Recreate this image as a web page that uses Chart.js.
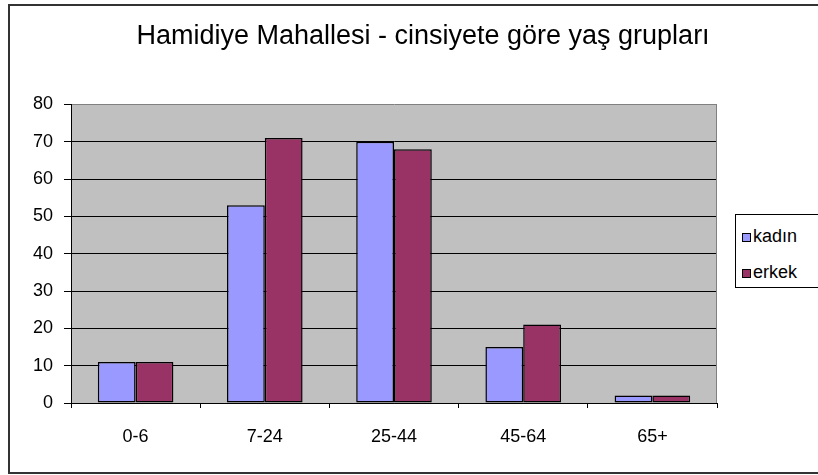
<!DOCTYPE html>
<html>
<head>
<meta charset="utf-8">
<script src="https://cdn.jsdelivr.net/npm/chart.js@4/dist/chart.umd.min.js"></script>
<style>
  html, body { margin: 0; padding: 0; background: #fff; }
  #wrap { position: relative; width: 818px; height: 475px; overflow: hidden; }
  #c { position: absolute; left: 0; top: 0; }
  #legend { position: absolute; left: 735px; top: 214px; width: 100px; height: 74px;
            border: 1px solid #000; background: #fff; box-sizing: border-box;
            font-family: "Liberation Sans", Arial, sans-serif; font-size: 18px; color: #000; }
  .item { position: absolute; left: 6px; height: 22px; line-height: 22px; white-space: nowrap; }
  .mk { display: inline-block; width: 7px; height: 7px; border: 1px solid #000; margin-right: 2px; vertical-align: 0px; }
</style>
</head>
<body>
<div id="wrap">
  <canvas id="c" width="818" height="475"></canvas>
  <div id="legend"></div>
</div>
<script>
const categories = ['0-6', '7-24', '25-44', '45-64', '65+'];
const seriesNames = ['kadın', 'erkek'];
const kadinValues = [11, 53, 70, 15, 2];
const erkekValues = [11, 71, 68, 21, 2];
const yMin = 0, yMax = 80, yStep = 10;
const titleText = 'Hamidiye Mahallesi - cinsiyete göre yaş grupları';
const seriesColors = ['#9999FF', '#993366'];

const FONT = '"Liberation Sans", Arial, sans-serif';

const chartDecor = {
  id: 'chartDecor',
  beforeDraw(chart) {
    const {ctx, chartArea: a} = chart;
    ctx.save();
    ctx.fillStyle = '#fff';
    ctx.fillRect(0, 0, chart.width, chart.height);
    ctx.strokeStyle = '#333';
    ctx.lineWidth = 2;
    ctx.strokeRect(9, 5, 900, 468);
    ctx.fillStyle = '#C0C0C0';
    ctx.fillRect(a.left, a.top, a.right - a.left, a.bottom - a.top);
    ctx.restore();
  },
  afterDraw(chart) {
    const {ctx, chartArea: a} = chart;
    ctx.save();
    ctx.strokeStyle = '#808080';
    ctx.lineWidth = 1;
    ctx.beginPath();
    ctx.moveTo(Math.round(a.right) - 0.5, a.top);
    ctx.lineTo(Math.round(a.right) - 0.5, a.bottom);
    ctx.stroke();
    ctx.restore();
  }
};

new Chart(document.getElementById('c'), {
  type: 'bar',
  data: {
    labels: categories,
    datasets: [
      { label: seriesNames[0], data: kadinValues, backgroundColor: seriesColors[0],
        borderColor: '#000', borderWidth: 1.5, borderSkipped: false,
        categoryPercentage: 0.585, barPercentage: 1.0 },
      { label: seriesNames[1], data: erkekValues, backgroundColor: seriesColors[1],
        borderColor: '#000', borderWidth: 1.5, borderSkipped: false,
        categoryPercentage: 0.585, barPercentage: 1.0 }
    ]
  },
  options: {
    responsive: false,
    animation: false,
    devicePixelRatio: 1,
    layout: { padding: { left: 28, right: 0, top: 0, bottom: 27 } },
    plugins: {
      legend: { display: false },
      tooltip: { enabled: false },
      title: {
        display: true, text: titleText, color: '#000',
        font: { family: FONT, size: 27, weight: 'normal' },
        padding: { top: 20, bottom: 52 }
      }
    },
    scales: {
      x: {
        offset: true,
        grid: { display: true, drawOnChartArea: false, drawTicks: true, tickLength: 5, color: '#000', offset: true },
        border: { display: true, color: '#000', width: 1 },
        ticks: { color: '#000', padding: 18, font: { family: FONT, size: 18 } },
        afterFit(s) { s.height = 45; }
      },
      y: {
        min: yMin, max: yMax,
        grid: {
          color: (c) => (c.tick && c.tick.value === yMax ? '#808080' : '#000'),
          tickColor: '#000', tickLength: 7, lineWidth: 1
        },
        border: { display: true, color: '#000', width: 1 },
        ticks: { stepSize: yStep, color: '#000', padding: 11, font: { family: FONT, size: 18 } },
        afterFit(s) { s.width = 43; }
      },
      yR: {
        position: 'right', display: true,
        grid: { display: false }, border: { display: false },
        ticks: { display: false },
        afterFit(s) { s.width = 101; }
      }
    }
  },
  plugins: [chartDecor]
});

const lg = document.getElementById('legend');
const tops = [10, 46];
seriesNames.forEach((n, i) => {
  const d = document.createElement('div');
  d.className = 'item';
  d.style.top = tops[i] + 'px';
  const m = document.createElement('span');
  m.className = 'mk';
  m.style.background = seriesColors[i];
  d.appendChild(m);
  d.appendChild(document.createTextNode(n));
  lg.appendChild(d);
});
</script>
</body>
</html>
